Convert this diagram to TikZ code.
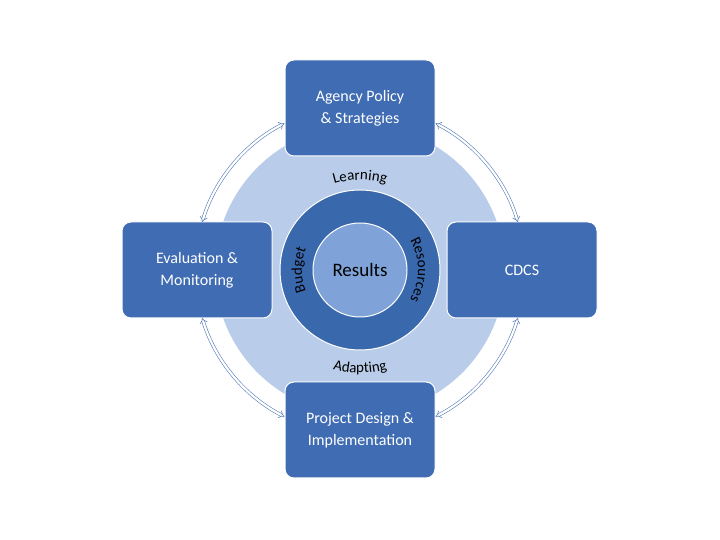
\documentclass[tikz,border=0pt]{standalone}
\usepackage{fontspec}
\setmainfont{Carlito}
\usetikzlibrary{arrows.meta,decorations.text}
\definecolor{boxblue}{HTML}{3F6CB3}
\definecolor{ringblue}{HTML}{3A68AD}
\definecolor{paleblue}{HTML}{B9CCE9}
\definecolor{midblue}{HTML}{7FA3D8}
\definecolor{arcblue}{HTML}{5A7FB8}

\begin{document}
\begin{tikzpicture}[x=1pt,y=1pt,
    stage/.style={draw=white,line width=1pt,fill=boxblue,rounded corners=9pt,
        minimum width=150pt,minimum height=96pt,text=white,align=center,font=\fontsize{16}{22}\selectfont},
    link/.style={draw=arcblue,double=white,double distance=2.2pt,line width=0.6pt,
        {Implies}-{Implies}},
    curved/.style={decorate,decoration={text along path,text align=center,
        text={|\fontsize{15}{17}\selectfont|#1}}}]
  \useasboundingbox (0,0) rectangle (720,540);
  \coordinate (c) at (360,270);
  % circles
  \fill[paleblue] (c) circle[radius=145];
  \draw[white,line width=1pt,fill=ringblue] (c) circle[radius=80];
  \draw[white,line width=1pt,fill=midblue] (c) circle[radius=47];
  \node (res) at (c) {\fontsize{19}{21}\selectfont Results};
  % ring texts
  \path[curved=Learning] (c) ++(130:90) arc[start angle=130,end angle=50,radius=90];
  \path[curved=Adapting] (c) ++(235:103) arc[start angle=235,end angle=305,radius=103];
  \path[curved=Budget] (c) ++(215:58) arc[start angle=215,end angle=145,radius=58];
  \path[curved=Resources] (c) ++(40:58) arc[start angle=40,end angle=-40,radius=58];
  % stages
  \node[stage] (policy) at (360,432) {Agency Policy\\\& Strategies};
  \node[stage] (cdcs) at (522,270) {CDCS};
  \node[stage] (design) at (360,110) {Project Design \&\\Implementation};
  \node[stage] (eval) at (197,270) {Evaluation \&\\Monitoring};
  % links
  \draw[link] (c) ++(62.7:165) arc[start angle=62.7,end angle=16.9,radius=165];
  \draw[link] (c) ++(117.3:165) arc[start angle=117.3,end angle=163.1,radius=165];
  \draw[link] (c) ++(196.9:165) arc[start angle=196.9,end angle=242.7,radius=165];
  \draw[link] (c) ++(343.1:165) arc[start angle=343.1,end angle=297.3,radius=165];
\end{tikzpicture}
\end{document}
